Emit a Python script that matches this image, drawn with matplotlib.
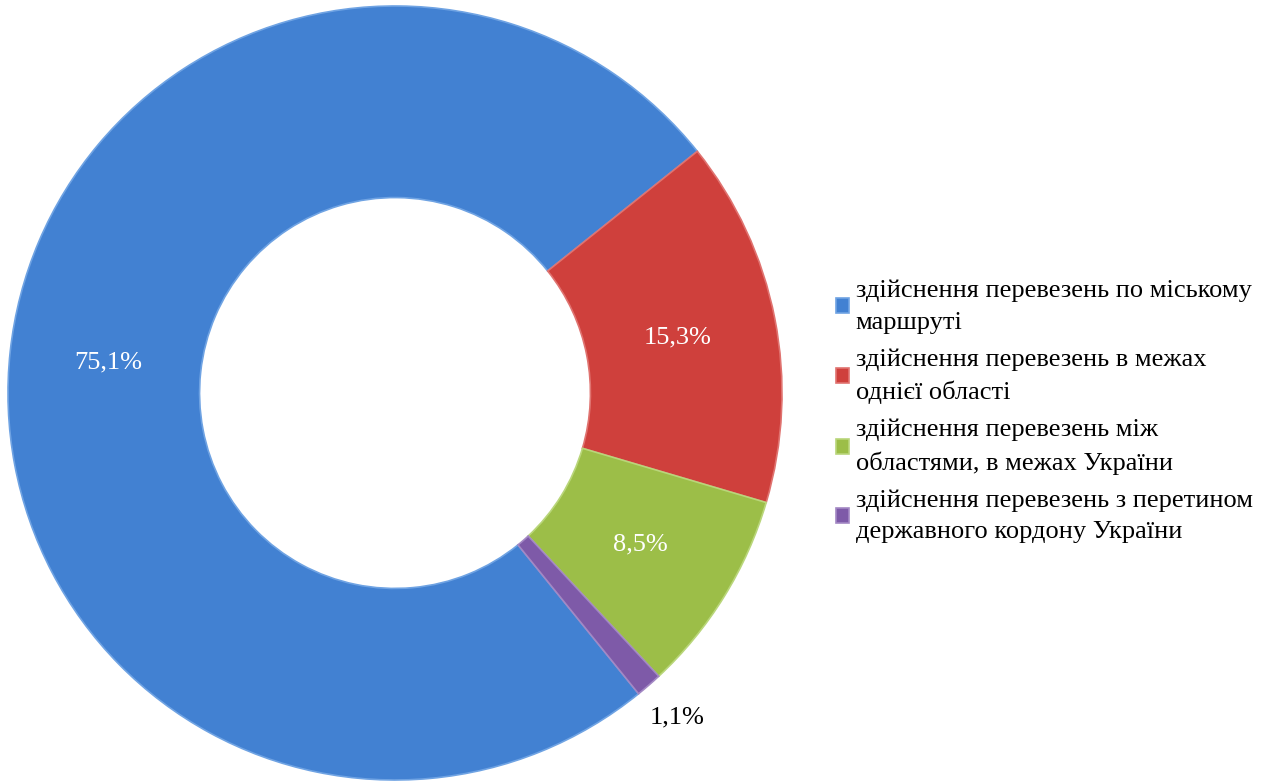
import numpy as np
import matplotlib
matplotlib.use('Agg')
import matplotlib.pyplot as plt

SERIF = ['Liberation Serif', 'STIX Two Text', 'DejaVu Serif']
plt.rcParams['font.family'] = SERIF

# дані
categories = ['здійснення перевезень по міському\nмаршруті',
              'здійснення перевезень в межах\nоднієї області',
              'здійснення перевезень між\nобластями, в межах України',
              'здійснення перевезень з перетином\nдержавного кордону України']
shares = [75.1, 15.3, 8.5, 1.1]
labels = ['75,1%', '15,3%', '8,5%', '1,1%']
colors = ['#4281D2', '#CF403C', '#9CBE48', '#7E5AA8']
edge_colors = ['#6FA3E3', '#E07370', '#B9D67A', '#A388C4']

W, H = 1270, 782
fig = plt.figure(figsize=(W / 100, H / 100), dpi=100)

cx, cy, R = 395, 389, 387
ax = fig.add_axes([(cx - R) / W, (cy - R) / H, 2 * R / W, 2 * R / H])

wedges, _ = ax.pie(shares, colors=colors, startangle=309, counterclock=False,
                   radius=1.0, wedgeprops=dict(width=0.495, linewidth=1.2))
for w, ec in zip(wedges, edge_colors):
    w.set_edgecolor(ec)

# підписи
for i, w in enumerate(wedges):
    mid = np.radians((w.theta1 + w.theta2) / 2)
    if i == 3:
        r, col = 1.11, 'black'
    else:
        r, col = 0.745, 'white'
    ax.text(r * np.cos(mid), r * np.sin(mid), labels[i], ha='center', va='center',
            family=SERIF, fontsize=19, color=col)

ax.set_xlim(-1, 1)
ax.set_ylim(-1, 1)
ax.set_aspect('equal')
ax.axis('off')

leg = fig.legend(wedges, categories, loc='upper left',
                 bbox_to_anchor=(812 / W, 1 - 256 / H), frameon=False,
                 prop=dict(family=SERIF, size=19), handlelength=0.5, handleheight=0.5,
                 handletextpad=0.25, labelspacing=0.55)
for t in leg.get_texts():
    t.set_linespacing(1.55)

fig.savefig('out.png', dpi=100)
